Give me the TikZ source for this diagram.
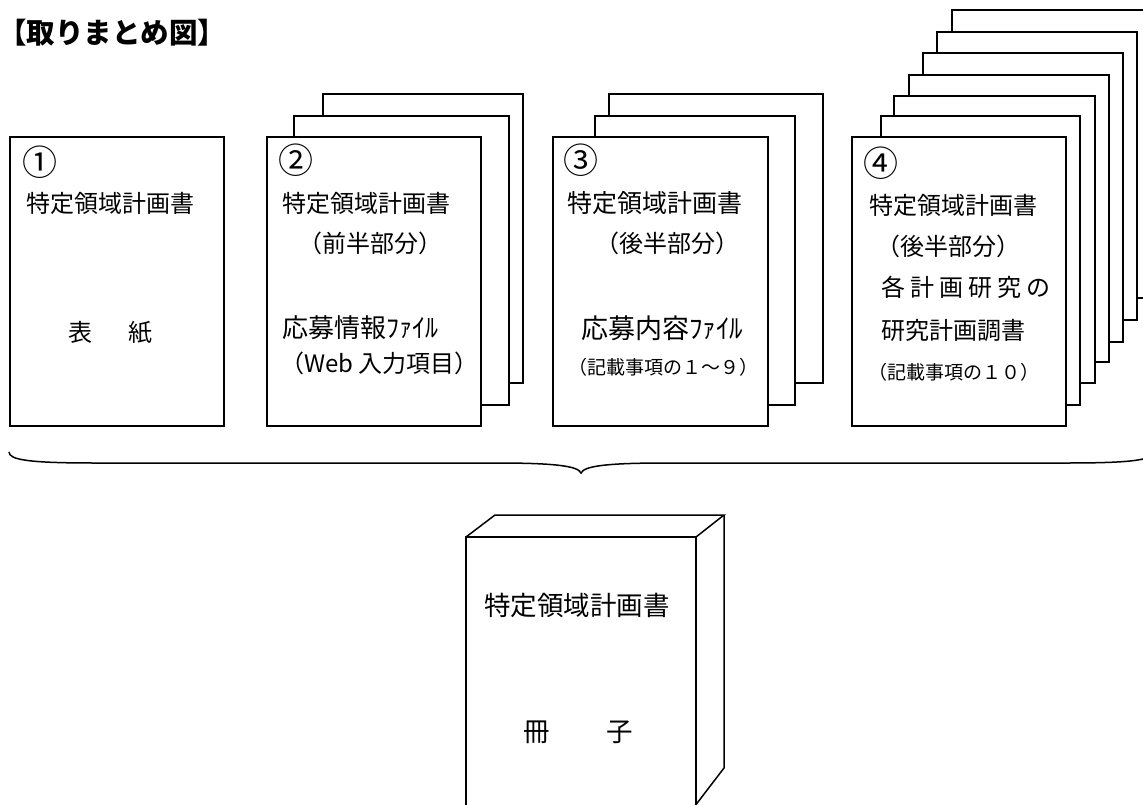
\documentclass[tikz,border=0pt]{standalone}
\usepackage{fontspec}
\setmainfont{Noto Sans CJK JP}
\newcommand{\fs}[1]{\fontsize{#1}{#1}\selectfont}
\begin{document}
\begin{tikzpicture}[x=1pt,y=-1pt,
  sheet/.style={draw,fill=white,line width=1.6pt},
  bline/.style={line width=1.5pt},
  lbl/.style={anchor=west,inner sep=0pt,font=\fs{24}},
  lblbig/.style={anchor=west,inner sep=0pt,font=\fs{26}},
  lblsmall/.style={anchor=west,inner sep=0pt,font=\fs{19}},
  num/.style={inner sep=0pt,font=\fs{35}}]
\useasboundingbox (0,0) rectangle (1143,805);
\clip (0,0) rectangle (1143,805);
% title
\node[anchor=west,inner sep=0pt,font=\fs{28.5}\bfseries] (title) at (-2,33) {【取りまとめ図】};
% sheet 1
\draw[sheet] (10,137) rectangle (224,426);
% sheet stack 2
\draw[sheet] (323,94) rectangle (523,383);
\draw[sheet] (294,116) rectangle (509,405);
\draw[sheet] (267,137) rectangle (481,426);
% sheet stack 3
\draw[sheet] (609,94) rectangle (823,383);
\draw[sheet] (595,116) rectangle (795,405);
\draw[sheet] (553,137) rectangle (768,426);
% sheet stack 4
\draw[sheet] (952,10) rectangle (1152,298);
\draw[sheet] (937,32) rectangle (1137,320);
\draw[sheet] (923,53) rectangle (1123,342);
\draw[sheet] (909,75) rectangle (1109,362);
\draw[sheet] (894,96) rectangle (1095,383);
\draw[sheet] (881,116) rectangle (1080,405);
\draw[sheet] (852,137) rectangle (1066,426);
% texts sheet 1
\node[num] (a0) at (39.5,162) {①};
\node[lbl] (a1) at (26,203) {特定領域計画書};
\node[inner sep=0pt,font=\fs{24}] (a2) at (110.5,333) {表\hspace{36pt}紙};
% texts sheet 2
\node[num] (b0) at (295.5,160) {②};
\node[lbl] (b1) at (282,203) {特定領域計画書};
\node[lbl] (b2) at (298,243) {（前半部分）};
\node[lblbig] (b3) at (282,328) {応募情報ﾌｧｲﾙ};
\node[lbl] (b4) at (280,363) {（Web 入力項目）};
% texts sheet 3
\node[num] (c0) at (580.5,160) {③};
\node[lbl,font=\fs{25}] (c1) at (567,203) {特定領域計画書};
\node[lbl] (c2) at (595,243) {（後半部分）};
\node[lblbig,font=\fs{27}] (c3) at (581,328) {応募内容ﾌｧｲﾙ};
\node[lblsmall] (c4) at (568,367) {（記載事項の１～９）};
% texts sheet 4
\node[num] (d0) at (880.5,163) {④};
\node[lbl] (d1) at (869,205) {特定領域計画書};
\node[lbl] (d2) at (876,246) {（後半部分）};
\node[lbl] (d3) at (881,287) {各\hspace{5pt}計\hspace{5pt}画\hspace{5pt}研\hspace{5pt}究\hspace{5pt}の};
\node[lbl] (d4) at (881,330) {研究計画調書};
\node[lblsmall] (d5) at (868,372) {（記載事項の１０）};
% brace
\draw[bline] (9,452) .. controls (9,460) and (30,463) .. (95,463) -- (496,463)
  .. controls (555,463) and (578,466) .. (581,473)
  .. controls (584,466) and (607,463) .. (666,463) -- (1067,463)
  .. controls (1132,463) and (1153,460) .. (1153,452);
% book
\draw[bline] (466,815) -- (466,537) -- (696,537) -- (696,815);
\draw[bline] (466,537) -- (495,515) -- (724,515) -- (696,537);
\draw[bline] (724,515) -- (724,768) -- (688,815);
\node[lbl,font=\fs{26.5}] (e1) at (484,605) {特定領域計画書};
\node[inner sep=0pt,font=\fs{26.5}] (e2) at (578,732) {冊\hspace{56pt}子};
\end{tikzpicture}
\end{document}
